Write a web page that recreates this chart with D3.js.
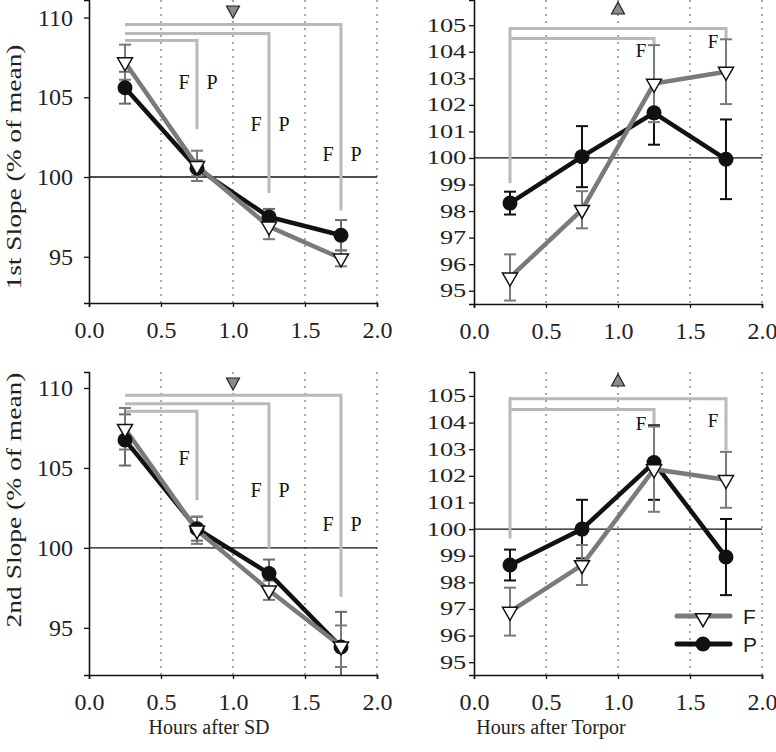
<!DOCTYPE html>
<html><head><meta charset="utf-8">
<script src="https://cdn.jsdelivr.net/npm/d3@7"></script>
<style>body{margin:0;background:#fff} svg{display:block}</style>
</head><body><svg id="c" width="776" height="752"></svg>
<script>
// ---------- data ----------
const hours = [0.25, 0.75, 1.25, 1.75];
const xTicks = [0, 0.5, 1.0, 1.5, 2.0];
const yTicksSD = [95, 100, 105, 110];
const yTicksTorpor = [95, 96, 97, 98, 99, 100, 101, 102, 103, 104, 105];
const seriesNames = ["F", "P"];
const yTitles = ["1st Slope (% of mean)", "2nd Slope (% of mean)"];
const xTitles = ["Hours after SD", "Hours after Torpor"];

// 1st slope, after SD
const sd1F = [107.2, 100.7, 96.9, 94.9];
const sd1FErr = [1.1, 0.95, 0.8, 0.5];
const sd1P = [105.6, 100.55, 97.5, 96.35];
const sd1PErr = [1.0, 0.5, 0.5, 0.95];
// 1st slope, after torpor
const tp1F = [95.5, 98.05, 102.8, 103.25];
const tp1FErr = [0.87, 0.7, 1.45, 1.22];
const tp1P = [98.3, 100.05, 101.7, 99.95];
const tp1PErr = [0.43, 1.15, 1.2, 1.5];
// 2nd slope, after SD
const sd2F = [107.45, 101.1, 97.35, 93.85];
const sd2FErr = [1.3, 0.85, 0.6, 1.3];
const sd2P = [106.75, 101.2, 98.4, 93.8];
const sd2PErr = [1.6, 0.75, 0.87, 2.2];
// 2nd slope, after torpor
const tp2F = [96.9, 98.65, 102.25, 101.85];
const tp2FErr = [0.9, 0.75, 1.6, 1.05];
const tp2P = [98.65, 100.0, 102.5, 98.95];
const tp2PErr = [0.58, 1.1, 1.4, 1.43];

// significance brackets (from 0.25 h to target hour)
const sd1BracketTo = [0.75, 1.25, 1.75];
const sd1BracketTop = [108.56, 109.0, 109.56];
const sd1BracketEnd = [103.0, 99.0, 97.9];
const tp1BracketTo = [1.25, 1.75];
const tp1BracketTop = [104.5, 104.88];
const tp1BracketEnd = [104.25, 104.45];
const tp1BracketStart = 99.05;
const sd2BracketTo = [0.75, 1.25, 1.75];
const sd2BracketTop = [108.54, 109.02, 109.54];
const sd2BracketEnd = [102.98, 99.96, 96.94];
const tp2BracketTo = [1.25, 1.75];
const tp2BracketTop = [104.49, 104.9];
const tp2BracketEnd = [103.95, 102.95];
const tp2BracketStart = 99.65;

// significance letters
const sd1LabelHours = [0.75, 1.25, 1.75];
const sd1LabelVal = [105.5, 102.9, 101.0];
const sd1LabelText = [["F", "P"], ["F", "P"], ["F", "P"]];
const tp1LabelHours = [1.25, 1.75];
const tp1LabelVal = [103.8, 104.14];
const tp1LabelText = [["F"], ["F"]];
const sd2LabelHours = [0.75, 1.25, 1.75];
const sd2LabelVal = [105.17, 103.17, 101.04];
const sd2LabelText = [["F"], ["F", "P"], ["F", "P"]];
const tp2LabelHours = [1.25, 1.75];
const tp2LabelVal = [103.71, 103.83];
const tp2LabelText = [["F"], ["F"]];

const sigHour = 1.0;

// ---------- layout ----------
const svg = d3.select("#c");
const SERIF = "'Liberation Serif','Times New Roman',serif";
const SANS = "'Liberation Sans',Arial,sans-serif";
const colF = "#7a7a7a", colP = "#111";
const colBracket = "#b9b9b9", colGrid = "#a8a8a8";

const panels = [
  {x0: 89, x1: 377, yT: 0, yB: 303, dom: [92.1, 111.1], ticks: yTicksSD, right: false,
   F: sd1F, FE: sd1FErr, P: sd1P, PE: sd1PErr, bTo: sd1BracketTo, bTop: sd1BracketTop, bEnd: sd1BracketEnd, bStart: null,
   lH: sd1LabelHours, lV: sd1LabelVal, lT: sd1LabelText, sig: "down"},
  {x0: 474, x1: 762, yT: 0, yB: 304, dom: [94.5, 105.95], ticks: yTicksTorpor, right: true,
   F: tp1F, FE: tp1FErr, P: tp1P, PE: tp1PErr, bTo: tp1BracketTo, bTop: tp1BracketTop, bEnd: tp1BracketEnd, bStart: tp1BracketStart,
   lH: tp1LabelHours, lV: tp1LabelVal, lT: tp1LabelText, sig: "up"},
  {x0: 89, x1: 377, yT: 372, yB: 675, dom: [92.05, 111.0], ticks: yTicksSD, right: false,
   F: sd2F, FE: sd2FErr, P: sd2P, PE: sd2PErr, bTo: sd2BracketTo, bTop: sd2BracketTop, bEnd: sd2BracketEnd, bStart: null,
   lH: sd2LabelHours, lV: sd2LabelVal, lT: sd2LabelText, sig: "down"},
  {x0: 474, x1: 762, yT: 372, yB: 675, dom: [94.52, 105.9], ticks: yTicksTorpor, right: true,
   F: tp2F, FE: tp2FErr, P: tp2P, PE: tp2PErr, bTo: tp2BracketTo, bTop: tp2BracketTop, bEnd: tp2BracketEnd, bStart: tp2BracketStart,
   lH: tp2LabelHours, lV: tp2LabelVal, lT: tp2LabelText, sig: "up"}
];

function triPath(cx, cy, w, h, down) {
  if (down) return `M${cx - w / 2},${cy - h / 3}L${cx + w / 2},${cy - h / 3}L${cx},${cy + 2 * h / 3}Z`;
  return `M${cx - w / 2},${cy + h / 3}L${cx + w / 2},${cy + h / 3}L${cx},${cy - 2 * h / 3}Z`;
}

panels.forEach((p, pi) => {
  const x = d3.scaleLinear().domain([0, 2]).range([p.x0, p.x1]);
  const y = d3.scaleLinear().domain(p.dom).range([p.yB, p.yT]);
  const g = svg.append("g");

  g.selectAll(".grid").data(xTicks.filter(d => d > 0)).enter().append("line")
    .attr("x1", d => x(d)).attr("x2", d => x(d)).attr("y1", p.yT).attr("y2", p.yB)
    .attr("stroke", colGrid).attr("stroke-width", 2).attr("stroke-dasharray", "2,5");

  g.append("line").attr("x1", x(0)).attr("x2", x(2)).attr("y1", y(100)).attr("y2", y(100))
    .attr("stroke", "#111").attr("stroke-width", 1.3);

  p.bTo.forEach((to, i) => {
    g.append("path").attr("d", `M${x(hours[0])},${y(p.bTop[i])}H${x(to)}V${y(p.bEnd[i])}`)
      .attr("fill", "none").attr("stroke", colBracket).attr("stroke-width", 3);
  });
  if (p.bStart !== null) {
    g.append("line").attr("x1", x(hours[0])).attr("x2", x(hours[0]))
      .attr("y1", y(d3.max(p.bTop)) - 1.5).attr("y2", y(p.bStart))
      .attr("stroke", colBracket).attr("stroke-width", 3);
  }

  p.lH.forEach((h, i) => {
    p.lT[i].forEach(t => {
      g.append("text").attr("x", x(h) + (t === "F" ? -13 : 15)).attr("y", y(p.lV[i]))
        .attr("text-anchor", "middle").attr("font-family", SERIF)
        .attr("font-size", p.right ? 19 : 20).attr("fill", "#111").text(t);
    });
  });

  const sy = p.yT + 10;
  g.append("path").attr("d", triPath(x(sigHour), sy, 13, 12, p.sig === "down"))
    .attr("fill", "#8c8c8c").attr("stroke", "#222").attr("stroke-width", 1.2);

  const errCol = { F: colF, P: p.right ? colP : "#6a6a6a" };
  ["P", "F"].forEach(s => {
    const vals = p[s], errs = p[s + "E"];
    hours.forEach((h, i) => {
      const top = y(vals[i] + errs[i]), bot = Math.min(y(vals[i] - errs[i]), p.yB);
      g.append("line").attr("x1", x(h)).attr("x2", x(h)).attr("y1", top).attr("y2", bot)
        .attr("stroke", errCol[s]).attr("stroke-width", 2);
      g.append("line").attr("x1", x(h) - 6).attr("x2", x(h) + 6).attr("y1", top).attr("y2", top)
        .attr("stroke", errCol[s]).attr("stroke-width", 2);
      if (y(vals[i] - errs[i]) < p.yB)
        g.append("line").attr("x1", x(h) - 6).attr("x2", x(h) + 6).attr("y1", bot).attr("y2", bot)
          .attr("stroke", errCol[s]).attr("stroke-width", 2);
    });
  });

  const line = d3.line().x((d, i) => x(hours[i])).y(d => y(d));
  g.append("path").attr("d", line(p.P)).attr("fill", "none").attr("stroke", colP).attr("stroke-width", 4.5);
  g.append("path").attr("d", line(p.F)).attr("fill", "none").attr("stroke", colF).attr("stroke-width", 4.5);

  g.selectAll(".mp").data(p.P).enter().append("circle")
    .attr("cx", (d, i) => x(hours[i])).attr("cy", d => y(d)).attr("r", 7.5).attr("fill", colP);
  g.selectAll(".mf").data(p.F).enter().append("path")
    .attr("d", (d, i) => triPath(x(hours[i]), y(d), 15, 13, true))
    .attr("fill", "#fff").attr("stroke", "#111").attr("stroke-width", 1.5);

  const yAxis = d3.axisLeft(y).tickValues(p.ticks).tickSizeOuter(0)
    .tickSize(5).tickPadding(p.right ? 2 : 11).tickFormat(d3.format("d"));
  const ya = g.append("g").attr("transform", `translate(${p.x0},0)`).call(yAxis);
  ya.select(".domain").attr("stroke", "#111").attr("stroke-width", 1.6);
  ya.selectAll(".tick line").attr("stroke", "#111").attr("stroke-width", 1.3);
  ya.selectAll("text").attr("font-family", SERIF).attr("font-size", 24).attr("fill", "#222");
  if (p.right) ya.selectAll("text").attr("transform", "scale(1.1,0.78)");

  const xAxis = d3.axisBottom(x).tickValues(xTicks).tickSizeOuter(0)
    .tickSize(4).tickPadding(14).tickFormat(d3.format(".1f"));
  const xa = g.append("g").attr("transform", `translate(0,${p.yB})`).call(xAxis);
  xa.select(".domain").attr("stroke", "#111").attr("stroke-width", 1.6);
  xa.selectAll(".tick line").attr("stroke", "#111").attr("stroke-width", 1.3);
  xa.selectAll("text").attr("font-family", SERIF).attr("font-size", 24).attr("fill", "#222");
});

svg.append("text").attr("transform", "translate(21,167) rotate(-90)").attr("text-anchor", "middle")
  .attr("font-family", SERIF).attr("font-size", 20).attr("fill", "#222")
  .attr("textLength", 245).attr("lengthAdjust", "spacingAndGlyphs").text(yTitles[0]);
svg.append("text").attr("transform", "translate(21,500) rotate(-90)").attr("text-anchor", "middle")
  .attr("font-family", SERIF).attr("font-size", 20).attr("fill", "#222")
  .attr("textLength", 255).attr("lengthAdjust", "spacingAndGlyphs").text(yTitles[1]);
svg.append("text").attr("x", 209).attr("y", 734).attr("text-anchor", "middle")
  .attr("font-family", SERIF).attr("font-size", 20).attr("fill", "#222").text(xTitles[0]);
svg.append("text").attr("x", 551).attr("y", 734).attr("text-anchor", "middle")
  .attr("font-family", SERIF).attr("font-size", 20).attr("fill", "#222").text(xTitles[1]);

const leg = svg.append("g");
[{n: seriesNames[0], y: 616, c: colF}, {n: seriesNames[1], y: 644, c: colP}].forEach((d, i) => {
  leg.append("line").attr("x1", 677).attr("x2", 730).attr("y1", d.y).attr("y2", d.y)
    .attr("stroke", d.c).attr("stroke-width", 5).attr("stroke-linecap", "round");
  if (i === 0) leg.append("path").attr("d", triPath(703, d.y + 2, 15, 13, true))
    .attr("fill", "#fff").attr("stroke", "#111").attr("stroke-width", 1.5);
  else leg.append("circle").attr("cx", 703).attr("cy", d.y).attr("r", 7.5).attr("fill", colP);
  leg.append("text").attr("x", 743).attr("y", d.y + 8).attr("font-family", SANS)
    .attr("font-size", 21).attr("fill", "#222").text(d.n);
});
</script></body></html>
